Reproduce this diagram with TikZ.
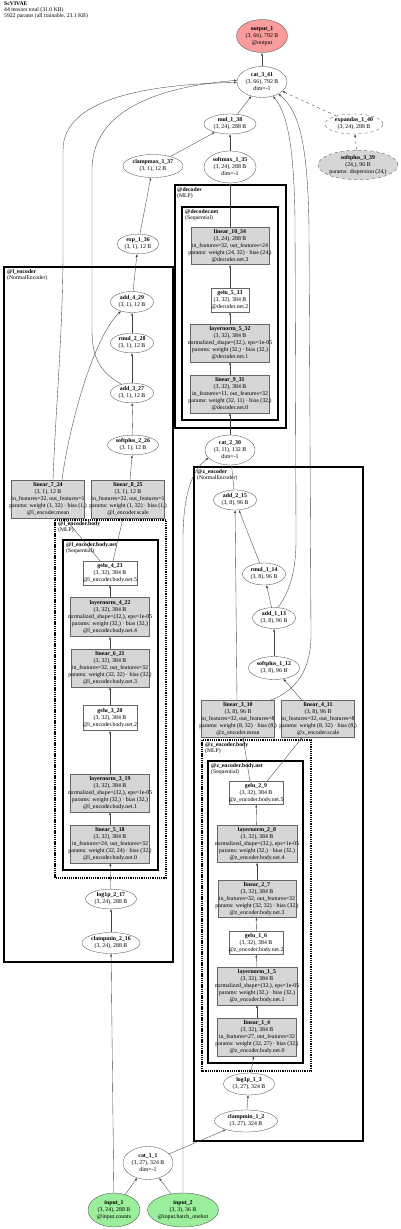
\documentclass[tikz,border=0pt]{standalone}
\usepackage{fontspec}
\setmainfont{Liberation Serif}
\usetikzlibrary{shapes.geometric,arrows.meta,calc}
\definecolor{outred}{HTML}{F89C9C}
\definecolor{ingreen}{HTML}{9BEE9B}
\definecolor{modgray}{HTML}{D6D6D6}
\newcommand\nf{\fontsize{5.85}{7}\selectfont}
\newcommand\lf{\fontsize{5.7}{6}\selectfont}
\newcommand\mytxt[1]{\makebox[0pt]{\begin{tabular}{@{}c@{}}#1\end{tabular}}}
\begin{document}
\begin{tikzpicture}[x=1pt,y=-1pt,
 op/.style={ellipse, draw=black!75, line width=0.3pt, inner sep=0pt, font=\nf},
 mod/.style={rectangle, draw=black!60, fill=modgray, line width=0.3pt, inner sep=0pt, font=\nf},
 wmod/.style={rectangle, draw=black!60, fill=white, line width=0.3pt, inner sep=0pt, font=\nf},
 edge/.style={draw=black!75, line width=0.35pt, -{Latex[length=2.8pt,width=2.1pt]}},
 clus/.style={draw=black, line width=1.5pt},
 clusnet/.style={draw=black, line width=1.2pt},
 clusdash/.style={draw=black, line width=1.2pt, dash pattern=on 1.3pt off 0.9pt},
 clab/.style={anchor=north west, inner sep=0pt, align=left, font=\lf},
]
\useasboundingbox (0,0) rectangle (400,1229);

% header
\node[anchor=north west, inner sep=0pt, align=left, font=\lf] (hdr) at (4,2)
 {\textbf{ScVIVAE}\\44 tensors total (31.0 KB)\\5922 params (all trainable, 23.1 KB)};

% clusters
\draw[clus] (175,185) rectangle (286,428);
\draw[clusnet] (182,207) rectangle (278,420);
\node[clab] (lab_dec) at (177,187) {\textbf{@decoder}\\(MLP)};
\node[clab] (lab_decnet) at (185,209) {\textbf{@decoder.net}\\(Sequential)};

\draw[clus] (4,267) rectangle (173,962);
\draw[clusdash] (55,520) rectangle (166,878);
\draw[clusnet] (63,540) rectangle (158,870);
\node[clab] (lab_le) at (7,269) {\textbf{@l\_encoder}\\(NormalEncoder)};
\node[clab] (lab_leb) at (58,521) {\textbf{@l\_encoder.body}\\(MLP)};
\node[clab] (lab_lebn) at (66,542) {\textbf{@l\_encoder.body.net}\\(Sequential)};

\draw[clus] (194,467) rectangle (363,1141);
\draw[clusdash] (202,740) rectangle (311,1071);
\draw[clusnet] (208,761) rectangle (303,1063);
\node[clab] (lab_ze) at (197,469) {\textbf{@z\_encoder}\\(NormalEncoder)};
\node[clab] (lab_zeb) at (205,742) {\textbf{@z\_encoder.body}\\(MLP)};
\node[clab] (lab_zebn) at (211,763) {\textbf{@z\_encoder.body.net}\\(Sequential)};

% top nodes
\node[op, fill=outred, minimum width=51pt, minimum height=33pt] (output_1) at (262,36) {\mytxt{\textbf{output\_1}\\(3, 66), 792 B\\@output}};
\node[op, minimum width=50pt, minimum height=31pt] (cat_3_41) at (262,82) {\mytxt{\textbf{cat\_3\_41}\\(3, 66), 792 B\\dim=-1}};
\node[op, minimum width=52pt, minimum height=20pt] (mul_1_38) at (230,124) {\mytxt{\textbf{mul\_1\_38}\\(3, 24), 288 B}};
\node[op, dashed, minimum width=58pt, minimum height=20pt] (expandas_1_40) at (354,124) {\mytxt{\textbf{expandas\_1\_40}\\(3, 24), 288 B}};
\node[op, dashed, fill=modgray, minimum width=80pt, minimum height=29pt] (softplus_3_39) at (358,165) {\mytxt{\textbf{softplus\_3\_39}\\(24,), 96 B\\params: dispersion (24,)}};
\node[op, minimum width=60pt, minimum height=23pt] (clampmax_1_37) at (153,166) {\mytxt{\textbf{clampmax\_1\_37}\\(3, 1), 12 B}};
\node[op, minimum width=52pt, minimum height=32pt] (softmax_1_35) at (230,167) {\mytxt{\textbf{softmax\_1\_35}\\(3, 24), 288 B\\dim=-1}};
\node[op, minimum width=42pt, minimum height=19pt] (exp_1_36) at (138,244) {\mytxt{\textbf{exp\_1\_36}\\(3, 1), 12 B}};

% decoder
\node[mod, minimum width=78pt, minimum height=37pt] (linear_10_34) at (230,246) {\mytxt{\textbf{linear\_10\_34}\\(3, 24), 288 B\\in\_features=32, out\_features=24\\params: weight (24, 32) · bias (24,)\\@decoder.net.3}};
\node[wmod, minimum width=38pt, minimum height=24pt] (gelu_5_33) at (230,300) {\mytxt{\textbf{gelu\_5\_33}\\(3, 32), 384 B\\@decoder.net.2}};
\node[mod, minimum width=79pt, minimum height=38pt] (layernorm_5_32) at (230,343) {\mytxt{\textbf{layernorm\_5\_32}\\(3, 32), 384 B\\normalized\_shape=(32,), eps=1e-05\\params: weight (32,) · bias (32,)\\@decoder.net.1}};
\node[mod, minimum width=79pt, minimum height=38pt] (linear_9_31) at (230,394) {\mytxt{\textbf{linear\_9\_31}\\(3, 32), 384 B\\in\_features=11, out\_features=32\\params: weight (32, 11) · bias (32,)\\@decoder.net.0}};
\node[op, minimum width=50pt, minimum height=30pt] (cat_2_30) at (230,450) {\mytxt{\textbf{cat\_2\_30}\\(3, 11), 132 B\\dim=-1}};

% l_encoder
\node[op, minimum width=43pt, minimum height=21pt] (add_4_29) at (132,302) {\mytxt{\textbf{add\_4\_29}\\(3, 1), 12 B}};
\node[op, minimum width=43pt, minimum height=19pt] (rmul_2_28) at (132,343) {\mytxt{\textbf{rmul\_2\_28}\\(3, 1), 12 B}};
\node[op, minimum width=43pt, minimum height=19pt] (add_3_27) at (132,393) {\mytxt{\textbf{add\_3\_27}\\(3, 1), 12 B}};
\node[op, minimum width=51pt, minimum height=19pt] (softplus_2_26) at (133,445) {\mytxt{\textbf{softplus\_2\_26}\\(3, 1), 12 B}};
\node[mod, minimum width=73pt, minimum height=38pt] (linear_7_24) at (48,499) {\mytxt{\textbf{linear\_7\_24}\\(3, 1), 12 B\\in\_features=32, out\_features=1\\params: weight (1, 32) · bias (1,)\\@l\_encoder.mean}};
\node[mod, minimum width=73pt, minimum height=38pt] (linear_8_25) at (128,499) {\mytxt{\textbf{linear\_8\_25}\\(3, 1), 12 B\\in\_features=32, out\_features=1\\params: weight (1, 32) · bias (1,)\\@l\_encoder.scale}};
\node[wmod, minimum width=54pt, minimum height=24pt] (gelu_4_23) at (110,573) {\mytxt{\textbf{gelu\_4\_23}\\(3, 32), 384 B\\@l\_encoder.body.net.5}};
\node[mod, minimum width=79pt, minimum height=39pt] (layernorm_4_22) at (110,617) {\mytxt{\textbf{layernorm\_4\_22}\\(3, 32), 384 B\\normalized\_shape=(32,), eps=1e-05\\params: weight (32,) · bias (32,)\\@l\_encoder.body.net.4}};
\node[mod, minimum width=78pt, minimum height=38pt] (linear_6_21) at (110,668) {\mytxt{\textbf{linear\_6\_21}\\(3, 32), 384 B\\in\_features=32, out\_features=32\\params: weight (32, 32) · bias (32,)\\@l\_encoder.body.net.3}};
\node[wmod, minimum width=54pt, minimum height=25pt] (gelu_3_20) at (110,718) {\mytxt{\textbf{gelu\_3\_20}\\(3, 32), 384 B\\@l\_encoder.body.net.2}};
\node[mod, minimum width=79pt, minimum height=38pt] (layernorm_3_19) at (110,793) {\mytxt{\textbf{layernorm\_3\_19}\\(3, 32), 384 B\\normalized\_shape=(32,), eps=1e-05\\params: weight (32,) · bias (32,)\\@l\_encoder.body.net.1}};
\node[mod, minimum width=79pt, minimum height=38pt] (linear_5_18) at (110,844) {\mytxt{\textbf{linear\_5\_18}\\(3, 32), 384 B\\in\_features=24, out\_features=32\\params: weight (32, 24) · bias (32,)\\@l\_encoder.body.net.0}};
\node[op, minimum width=51pt, minimum height=19pt] (log1p_2_17) at (111,899) {\mytxt{\textbf{log1p\_2\_17}\\(3, 24), 288 B}};
\node[op, minimum width=58pt, minimum height=21pt] (clampmin_2_16) at (111,943) {\mytxt{\textbf{clampmin\_2\_16}\\(3, 24), 288 B}};

% z_encoder
\node[op, minimum width=43pt, minimum height=20pt] (add_2_15) at (235,500) {\mytxt{\textbf{add\_2\_15}\\(3, 8), 96 B}};
\node[op, minimum width=43pt, minimum height=22pt] (rmul_1_14) at (264,574) {\mytxt{\textbf{rmul\_1\_14}\\(3, 8), 96 B}};
\node[op, minimum width=43pt, minimum height=21pt] (add_1_13) at (274,618) {\mytxt{\textbf{add\_1\_13}\\(3, 8), 96 B}};
\node[op, minimum width=51pt, minimum height=23pt] (softplus_1_12) at (274,668) {\mytxt{\textbf{softplus\_1\_12}\\(3, 8), 96 B}};
\node[mod, minimum width=73pt, minimum height=37pt] (linear_3_10) at (238,719) {\mytxt{\textbf{linear\_3\_10}\\(3, 8), 96 B\\in\_features=32, out\_features=8\\params: weight (8, 32) · bias (8,)\\@z\_encoder.mean}};
\node[mod, minimum width=73pt, minimum height=37pt] (linear_4_11) at (318,719) {\mytxt{\textbf{linear\_4\_11}\\(3, 8), 96 B\\in\_features=32, out\_features=8\\params: weight (8, 32) · bias (8,)\\@z\_encoder.scale}};
\node[wmod, minimum width=54pt, minimum height=23pt] (gelu_2_9) at (256,793) {\mytxt{\textbf{gelu\_2\_9}\\(3, 32), 384 B\\@z\_encoder.body.net.5}};
\node[mod, minimum width=80pt, minimum height=37pt] (layernorm_2_8) at (257,844) {\mytxt{\textbf{layernorm\_2\_8}\\(3, 32), 384 B\\normalized\_shape=(32,), eps=1e-05\\params: weight (32,) · bias (32,)\\@z\_encoder.body.net.4}};
\node[mod, minimum width=78pt, minimum height=37pt] (linear_2_7) at (257,899) {\mytxt{\textbf{linear\_2\_7}\\(3, 32), 384 B\\in\_features=32, out\_features=32\\params: weight (32, 32) · bias (32,)\\@z\_encoder.body.net.3}};
\node[wmod, minimum width=54pt, minimum height=23pt] (gelu_1_6) at (256,943) {\mytxt{\textbf{gelu\_1\_6}\\(3, 32), 384 B\\@z\_encoder.body.net.2}};
\node[mod, minimum width=80pt, minimum height=38pt] (layernorm_1_5) at (257,986) {\mytxt{\textbf{layernorm\_1\_5}\\(3, 32), 384 B\\normalized\_shape=(32,), eps=1e-05\\params: weight (32,) · bias (32,)\\@z\_encoder.body.net.1}};
\node[mod, minimum width=79pt, minimum height=38pt] (linear_1_4) at (257,1037) {\mytxt{\textbf{linear\_1\_4}\\(3, 32), 384 B\\in\_features=27, out\_features=32\\params: weight (32, 27) · bias (32,)\\@z\_encoder.body.net.0}};
\node[op, minimum width=51pt, minimum height=22pt] (log1p_1_3) at (249,1084) {\mytxt{\textbf{log1p\_1\_3}\\(3, 27), 324 B}};
\node[op, minimum width=63pt, minimum height=22pt] (clampmin_1_2) at (246,1121) {\mytxt{\textbf{clampmin\_1\_2}\\(3, 27), 324 B}};

% bottom
\node[op, minimum width=50pt, minimum height=33pt] (cat_1_1) at (148,1163) {\mytxt{\textbf{cat\_1\_1}\\(3, 27), 324 B\\dim=-1}};
\node[op, fill=ingreen, minimum width=52pt, minimum height=34pt] (input_1) at (114,1210) {\mytxt{\textbf{input\_1}\\(3, 24), 288 B\\@input.counts}};
\node[op, fill=ingreen, minimum width=71pt, minimum height=34pt] (input_2) at (183,1210) {\mytxt{\textbf{input\_2}\\(3, 3), 36 B\\@input.batch\_onehot}};

% edges
\draw[edge] (input_1) -- (cat_1_1);
\draw[edge] (input_2) -- (cat_1_1);
\draw[edge] (cat_1_1) -- (clampmin_1_2);
\draw[edge] (clampmin_1_2) -- (log1p_1_3);
\draw[edge] (log1p_1_3) -- (linear_1_4);
\draw[edge] (linear_1_4) -- (layernorm_1_5);
\draw[edge] (layernorm_1_5) -- (gelu_1_6);
\draw[edge] (gelu_1_6) -- (linear_2_7);
\draw[edge] (linear_2_7) -- (layernorm_2_8);
\draw[edge] (layernorm_2_8) -- (gelu_2_9);
\draw[edge] ([xshift=-6pt]gelu_2_9.north) -- ([xshift=5pt]linear_3_10.south);
\draw[edge] ([xshift=11pt]gelu_2_9.north) -- ([xshift=-16pt]linear_4_11.south);
\draw[edge] ([xshift=-16pt]linear_4_11.north) -- (softplus_1_12);
\draw[edge] (softplus_1_12) -- (add_1_13);
\draw[edge] (add_1_13) -- (rmul_1_14);
\draw[edge] (rmul_1_14) -- (add_2_15);
\draw[edge] ([xshift=-1pt]linear_3_10.north) -- (add_2_15);
\draw[edge] (add_2_15) -- (cat_2_30);
\draw[edge] (input_2.north) -- (183,540) .. controls (183,495) and (192,470) .. (cat_2_30.200);
\draw[edge] (cat_2_30) -- (linear_9_31);
\draw[edge] (linear_9_31) -- (layernorm_5_32);
\draw[edge] (layernorm_5_32) -- (gelu_5_33);
\draw[edge] (gelu_5_33) -- (linear_10_34);
\draw[edge] (linear_10_34) -- (softmax_1_35);
\draw[edge] (softmax_1_35) -- (mul_1_38);
\draw[edge] (clampmax_1_37) -- (mul_1_38);
\draw[edge] (exp_1_36) -- (clampmax_1_37);
\draw[edge] (add_4_29) -- (exp_1_36);
\draw[edge] (mul_1_38) -- (cat_3_41);
\draw[edge, dashed] (softplus_3_39) -- (expandas_1_40);
\draw[edge, dashed] (expandas_1_40) -- (cat_3_41);
\draw[edge] (cat_3_41) -- (output_1);

\draw[edge] (input_1) -- (clampmin_2_16);
\draw[edge] (clampmin_2_16) -- (log1p_2_17);
\draw[edge] (log1p_2_17) -- (linear_5_18);
\draw[edge] (linear_5_18) -- (layernorm_3_19);
\draw[edge] (layernorm_3_19) -- (gelu_3_20);
\draw[edge] (gelu_3_20) -- (linear_6_21);
\draw[edge] (linear_6_21) -- (layernorm_4_22);
\draw[edge] (layernorm_4_22) -- (gelu_4_23);
\draw[edge] ([xshift=-10pt]gelu_4_23.north) -- ([xshift=17pt]linear_7_24.south);
\draw[edge] ([xshift=3pt]gelu_4_23.north) -- ([xshift=-5pt]linear_8_25.south);
\draw[edge] ([xshift=2pt]linear_8_25.north) -- (softplus_2_26);
\draw[edge] (softplus_2_26) -- (add_3_27);
\draw[edge] (add_3_27) -- (rmul_2_28);
\draw[edge] (rmul_2_28) -- (add_4_29);
\draw[edge] ([xshift=14pt]linear_7_24.north) .. controls (70,420) and (95,335) .. (add_4_29.220);

% long edges into cat_3_41
\draw[edge] ([xshift=5pt]linear_7_24.north) .. controls (55,420) and (63,330) .. (63,250) -- (63,150) .. controls (63,95) and (160,84) .. (cat_3_41.181);
\draw[edge] (add_3_27.140) .. controls (100,372) and (92,358) .. (92,330) -- (92,170) .. controls (92,105) and (170,86) .. (cat_3_41.176);
\draw[edge] (add_1_13.70) .. controls (290,592) and (296,570) .. (296,540) -- (295,220) .. controls (294,140) and (286,112) .. (cat_3_41.-52);
\draw[edge] ([xshift=32pt]linear_3_10.north) .. controls (298,690) and (311,668) .. (311,635) -- (309,230) .. controls (308,140) and (298,110) .. (cat_3_41.-36);
\end{tikzpicture}
\end{document}
